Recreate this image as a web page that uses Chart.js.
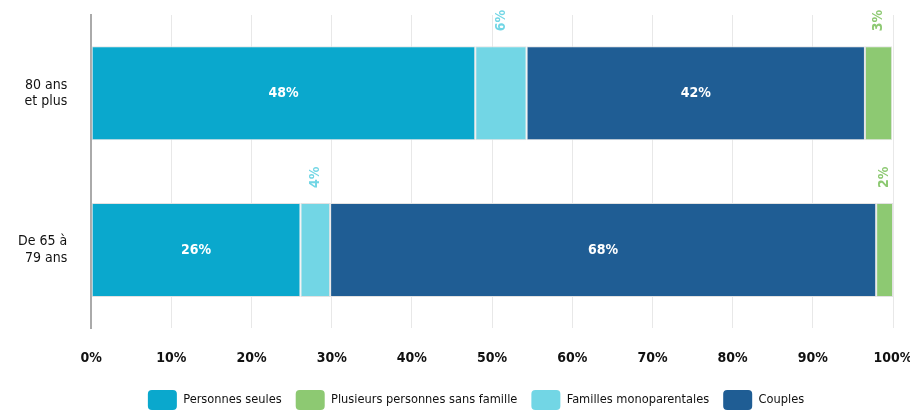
<!DOCTYPE html>
<html>
<head>
<meta charset="utf-8">
<script src="https://cdn.jsdelivr.net/npm/chart.js@4.4.1/dist/chart.umd.min.js"></script>
<style>
  body { margin: 0; background: #fff; }
  canvas { display: block; }
</style>
</head>
<body>
<canvas id="graphique" width="910" height="413"></canvas>
<script>
const categories = [['80 ans', 'et plus'], ['De 65 à', '79 ans']];
const personnesSeules = [47.9, 26.1];
const famillesMono = [6.4, 3.7];
const couples = [42.2, 68.1];
const plusieursPersonnes = [3.4, 2.1];
const ticksX = ['0%', '10%', '20%', '30%', '40%', '50%', '60%', '70%', '80%', '90%', '100%'];

// ordre de la légende (différent de l'ordre d'empilement)
const ordreLegende = [0, 3, 1, 2];
const POLICE = "'DejaVu Sans Condensed', 'DejaVu Sans', sans-serif";
const POLICE_ETROITE = "'Liberation Sans Narrow', 'DejaVu Sans Condensed', sans-serif";
const DECALAGE_LEGENDE = 12;

const etiquettes = {
    id: 'etiquettes',
    afterDatasetsDraw(chart) {
        const ctx = chart.ctx;
        chart.data.datasets.forEach((ds, i) => {
            const meta = chart.getDatasetMeta(i);
            meta.data.forEach((barre, j) => {
                const valeur = ds.data[j];
                const texte = Math.round(valeur) + '%';
                const x = (barre.x + barre.base) / 2;
                ctx.save();
                ctx.font = 'bold 14px ' + POLICE_ETROITE;
                if (valeur >= 10) {
                    ctx.fillStyle = '#ffffff';
                    ctx.textAlign = 'center';
                    ctx.textBaseline = 'middle';
                    ctx.fillText(texte, x, barre.y);
                } else {
                    ctx.fillStyle = ds.backgroundColor;
                    ctx.translate(x, barre.y - barre.height / 2 - 15);
                    ctx.rotate(-Math.PI / 2);
                    ctx.textAlign = 'left';
                    ctx.textBaseline = 'middle';
                    ctx.fillText(texte, 0, 0);
                }
                ctx.restore();
            });
        });
    }
};

// la légende de l'original n'est pas centrée sur le canevas
const decalerLegende = {
    id: 'decalerLegende',
    afterLayout(chart) {
        chart.legend.left += DECALAGE_LEGENDE;
        chart.legend.right += DECALAGE_LEGENDE;
    }
};

new Chart(document.getElementById('graphique'), {
    type: 'bar',
    data: {
        labels: categories,
        datasets: [
            { label: 'Personnes seules', data: personnesSeules, backgroundColor: '#0aa8cd' },
            { label: 'Familles monoparentales', data: famillesMono, backgroundColor: '#72d6e5' },
            { label: 'Couples', data: couples, backgroundColor: '#1f5d94' },
            { label: 'Plusieurs personnes sans famille', data: plusieursPersonnes, backgroundColor: '#8dc972' }
        ].map(d => Object.assign(d, {
            borderColor: '#e2e2e2',
            borderWidth: 1,
            borderSkipped: false,
            barPercentage: 0.6,
            categoryPercentage: 1
        }))
    },
    options: {
        indexAxis: 'y',
        responsive: false,
        animation: false,
        layout: { padding: { top: 15, right: 0, left: 18, bottom: -7 } },
        scales: {
            x: {
                stacked: true,
                min: 0,
                max: 100,
                ticks: {
                    stepSize: 10,
                    padding: 22,
                    color: '#111',
                    font: { family: POLICE_ETROITE, size: 14, weight: 'bold' },
                    callback: (v, i) => ticksX[i]
                },
                grid: { color: '#e8e8e8', drawTicks: false },
                border: { display: false },
                // Chart.js compte le padding deux fois
                afterFit: s => { s.paddingLeft = 0; s.paddingRight = 17; s.height -= 13; }
            },
            y: {
                stacked: true,
                ticks: {
                    padding: 24,
                    color: '#111',
                    font: { family: POLICE, size: 14 }
                },
                grid: { display: false, drawTicks: false },
                border: { display: true, color: '#aaaaaa', width: 2 },
                afterFit: s => { s.paddingTop = 0; s.paddingBottom = 0; s.width -= 24; }
            }
        },
        plugins: {
            tooltip: { enabled: false },
            legend: {
                position: 'bottom',
                labels: {
                    boxWidth: 29,
                    boxHeight: 20,
                    useBorderRadius: true,
                    borderRadius: 4,
                    padding: 14,
                    color: '#111',
                    font: { family: POLICE, size: 12.7 },
                    sort: (a, b) => ordreLegende.indexOf(a.datasetIndex) - ordreLegende.indexOf(b.datasetIndex),
                    generateLabels: chart => chart.data.datasets.map((ds, i) => ({
                        text: ds.label,
                        fillStyle: ds.backgroundColor,
                        strokeStyle: ds.backgroundColor,
                        lineWidth: 0,
                        borderRadius: 4,
                        datasetIndex: i,
                        fontColor: '#111'
                    }))
                }
            }
        }
    },
    plugins: [etiquettes, decalerLegende]
});
</script>
</body>
</html>
